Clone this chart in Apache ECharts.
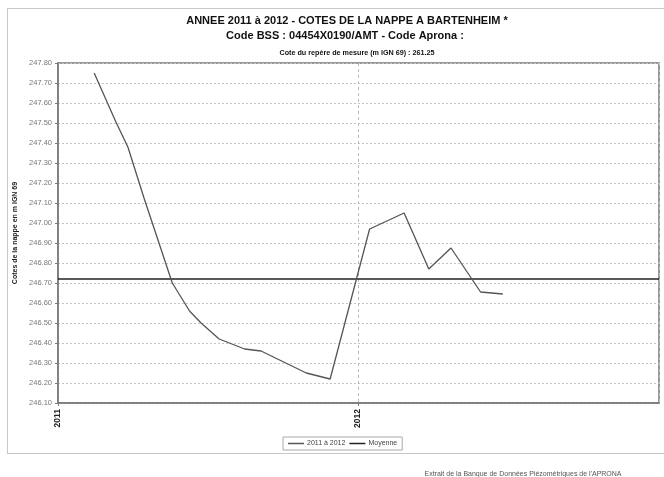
<!DOCTYPE html>
<html>
<head>
<meta charset="utf-8">
<script src="https://cdn.jsdelivr.net/npm/echarts@6/dist/echarts.min.js"></script>
<style>
  html, body { margin: 0; padding: 0; background: #fff; }
  #frame { position: absolute; left: 7px; top: 8px; width: 670px; height: 446px; border: 1px solid #c8c8c8; box-sizing: border-box; }
  #chart { position: absolute; left: 0; top: 0; width: 664px; height: 477px; }
</style>
</head>
<body>
<div id="frame"></div>
<div id="chart"></div>
<script>
// Measurement dates and groundwater levels (m IGN 69), Bartenheim 2011-2012
const dates = [
  '2011-02-14', '2011-03-13', '2011-03-27', '2011-04-16', '2011-05-20',
  '2011-06-10', '2011-06-24', '2011-07-16', '2011-08-16', '2011-09-05',
  '2011-10-05', '2011-10-30', '2011-11-28', '2012-01-15', '2012-02-26',
  '2012-03-27', '2012-04-23', '2012-05-29', '2012-06-25'
];
const levels = [
  247.75, 247.50, 247.38, 247.12, 246.70,
  246.56, 246.50, 246.42, 246.37, 246.36,
  246.30, 246.25, 246.22, 246.97, 247.05,
  246.77, 246.875, 246.655, 246.645
];
const meanLevel = 246.72;
const axisStart = '2011-01-01';
const axisEnd = '2013-01-01';
const yMin = 246.1, yMax = 247.8, yStep = 0.1;

const FONT = "'Liberation Sans', Arial, sans-serif";
const YEAR_MS = 365 * 24 * 3600 * 1000;

const chart = echarts.init(document.getElementById('chart'), null, { renderer: 'canvas' });

chart.setOption({
  backgroundColor: 'transparent',
  animation: false,
  title: [
    {
      text: 'ANNEE 2011 à 2012 - COTES DE LA NAPPE A BARTENHEIM *',
      left: 342, top: 10, textAlign: 'center',
      textStyle: { fontFamily: FONT, fontSize: 11, fontWeight: 'bold', color: '#111' }
    },
    {
      text: 'Code BSS : 04454X0190/AMT - Code Aprona :',
      left: 340, top: 25, textAlign: 'center',
      textStyle: { fontFamily: FONT, fontSize: 11, fontWeight: 'bold', color: '#111' }
    },
    {
      text: 'Cote du repère de mesure (m IGN 69) : 261.25',
      left: 352, top: 45, textAlign: 'center',
      textStyle: { fontFamily: FONT, fontSize: 7.2, fontWeight: 'bold', color: '#111' }
    },
    {
      text: "Extrait de la Banque de Données Piézométriques de l'APRONA",
      left: 518, top: 466, textAlign: 'center',
      textStyle: { fontFamily: FONT, fontSize: 7, fontWeight: 'normal', color: '#555' }
    }
  ],
  legend: {
    left: 283, top: 437,
    padding: [3, 5, 3, 5],
    itemGap: 4,
    icon: 'rect',
    itemWidth: 16, itemHeight: 1.5,
    borderColor: '#aaa', borderWidth: 1, borderRadius: 0,
    textStyle: { fontFamily: FONT, fontSize: 7, color: '#444', padding: [0, 0, 0, -2] },
    data: ['2011 à 2012', 'Moyenne']
  },
  grid: {
    left: 58, right: 5, top: 63, bottom: 74,
    show: true, borderColor: '#777', borderWidth: 1.5, backgroundColor: '#fff'
  },
  xAxis: {
    type: 'time',
    min: axisStart, max: axisEnd,
    minInterval: YEAR_MS, maxInterval: YEAR_MS + 24 * 3600 * 1000,
    axisLine: { show: true, lineStyle: { color: '#777', width: 1.5 } },
    axisTick: { show: true, length: 3, lineStyle: { color: '#777' } },
    splitLine: { show: true, lineStyle: { color: '#bbb', type: [3, 3], width: 1 } },
    axisLabel: {
      rotate: 90, margin: 6,
      fontFamily: FONT, fontSize: 8.5, fontWeight: 'bold', color: '#222',
      showMaxLabel: false,
      formatter: function (v) { return String(new Date(v).getFullYear()); }
    }
  },
  yAxis: {
    type: 'value',
    min: yMin, max: yMax, interval: yStep,
    name: 'Cotes de la nappe en m IGN 69',
    nameLocation: 'middle', nameGap: 38, nameRotate: 90,
    nameTextStyle: { fontFamily: FONT, fontSize: 7, fontWeight: 'bold', color: '#222' },
    axisLine: { show: true, lineStyle: { color: '#777', width: 1.5 } },
    axisTick: { show: true, length: 3, lineStyle: { color: '#777' } },
    splitLine: { show: true, lineStyle: { color: '#c4c4c4', type: [2, 2], width: 1 } },
    axisLabel: {
      margin: 6, fontFamily: FONT, fontSize: 7.5, color: '#777',
      formatter: function (v) { return v.toFixed(2); }
    }
  },
  series: [
    {
      name: '2011 à 2012',
      type: 'line',
      symbol: 'none',
      data: dates.map(function (d, i) { return [d, levels[i]]; }),
      lineStyle: { color: '#555', width: 1.3 },
      itemStyle: { color: '#555' },
      z: 3
    },
    {
      name: 'Moyenne',
      type: 'line',
      symbol: 'none',
      data: [[axisStart, meanLevel], [axisEnd, meanLevel]],
      lineStyle: { color: '#222', width: 1.6 },
      itemStyle: { color: '#222' },
      z: 2
    }
  ]
});
</script>
</body>
</html>
